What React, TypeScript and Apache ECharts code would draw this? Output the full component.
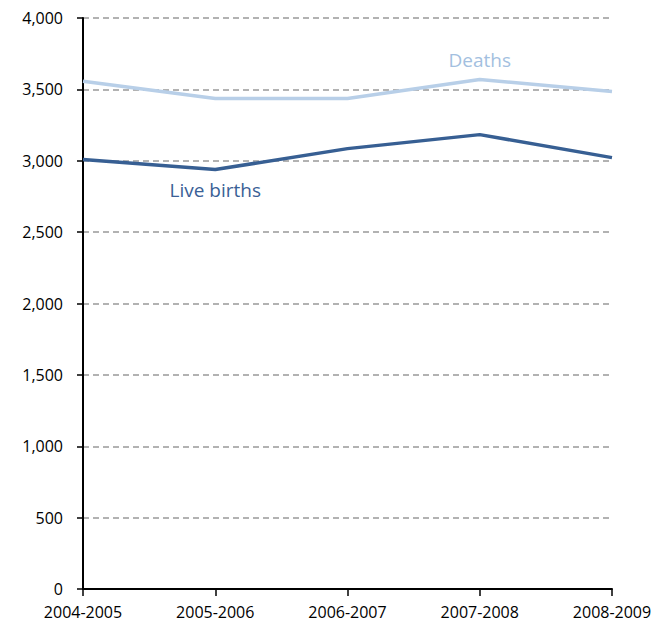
import React, { useEffect, useRef } from "react";
import * as echarts from "echarts";

const categories = ["2004-2005", "2005-2006", "2006-2007", "2007-2008", "2008-2009"];
const deaths = [3557, 3436, 3436, 3569, 3485];
const liveBirths = [3008, 2938, 3085, 3183, 3022];
const yTicks = { min: 0, max: 4000, interval: 500 };

const FONT = "'Open Sans', Lato, sans-serif";

export default function App() {
  const ref = useRef<HTMLDivElement>(null);
  useEffect(() => {
    if (!ref.current) return;
    const chart = echarts.init(ref.current, null, { renderer: "svg" });
    chart.setOption({
      animation: false,
      backgroundColor: "#ffffff",
      grid: { left: 83, right: 44, top: 18, bottom: 41, containLabel: false },
      xAxis: {
        type: "category",
        data: categories,
        boundaryGap: false,
        axisLine: { lineStyle: { color: "#000", width: 2 } },
        axisTick: { show: true, length: 7, alignWithLabel: true, lineStyle: { color: "#000", width: 1.5 } },
        axisLabel: { color: "#000", fontSize: 16, fontFamily: FONT, margin: 15 },
        splitLine: { show: false },
      },
      yAxis: {
        type: "value",
        min: yTicks.min,
        max: yTicks.max,
        interval: yTicks.interval,
        axisLine: { show: true, lineStyle: { color: "#000", width: 2 } },
        axisTick: { show: true, length: 6, lineStyle: { color: "#000", width: 1.5 } },
        axisLabel: {
          color: "#000",
          fontSize: 16,
          fontFamily: FONT,
          margin: 20,
          formatter: (v: number) => v.toLocaleString("en-US"),
        },
        splitLine: { show: true, lineStyle: { color: "#999", type: [6, 4], width: 1.5 } },
      },
      series: [
        {
          name: "Deaths",
          type: "line",
          data: deaths,
          symbol: "none",
          lineStyle: { color: "#b8cfe8", width: 3.5 },
          itemStyle: { color: "#b8cfe8" },
          markPoint: {
            symbol: "rect",
            symbolSize: 1,
            itemStyle: { color: "rgba(255,255,255,0)" },
            data: [
              {
                coord: [categories[3], deaths[3]],
                label: {
                  show: true,
                  position: "top",
                  distance: 10,
                  formatter: "Deaths",
                  color: "#a3bfe0",
                  fontSize: 19,
                  fontFamily: FONT,
                },
              },
            ],
          },
        },
        {
          name: "Live births",
          type: "line",
          data: liveBirths,
          symbol: "none",
          lineStyle: { color: "#375f93", width: 3.5 },
          itemStyle: { color: "#375f93" },
          markPoint: {
            symbol: "rect",
            symbolSize: 1,
            itemStyle: { color: "rgba(255,255,255,0)" },
            data: [
              {
                coord: [categories[1], liveBirths[1]],
                label: {
                  show: true,
                  position: "bottom",
                  distance: 10,
                  formatter: "Live births",
                  color: "#3a6096",
                  fontSize: 19,
                  fontFamily: FONT,
                },
              },
            ],
          },
        },
      ],
    });
    return () => chart.dispose();
  }, []);
  return <div ref={ref} style={{ width: 656, height: 630, position: "absolute", left: 0, top: 0 }} />;
}
